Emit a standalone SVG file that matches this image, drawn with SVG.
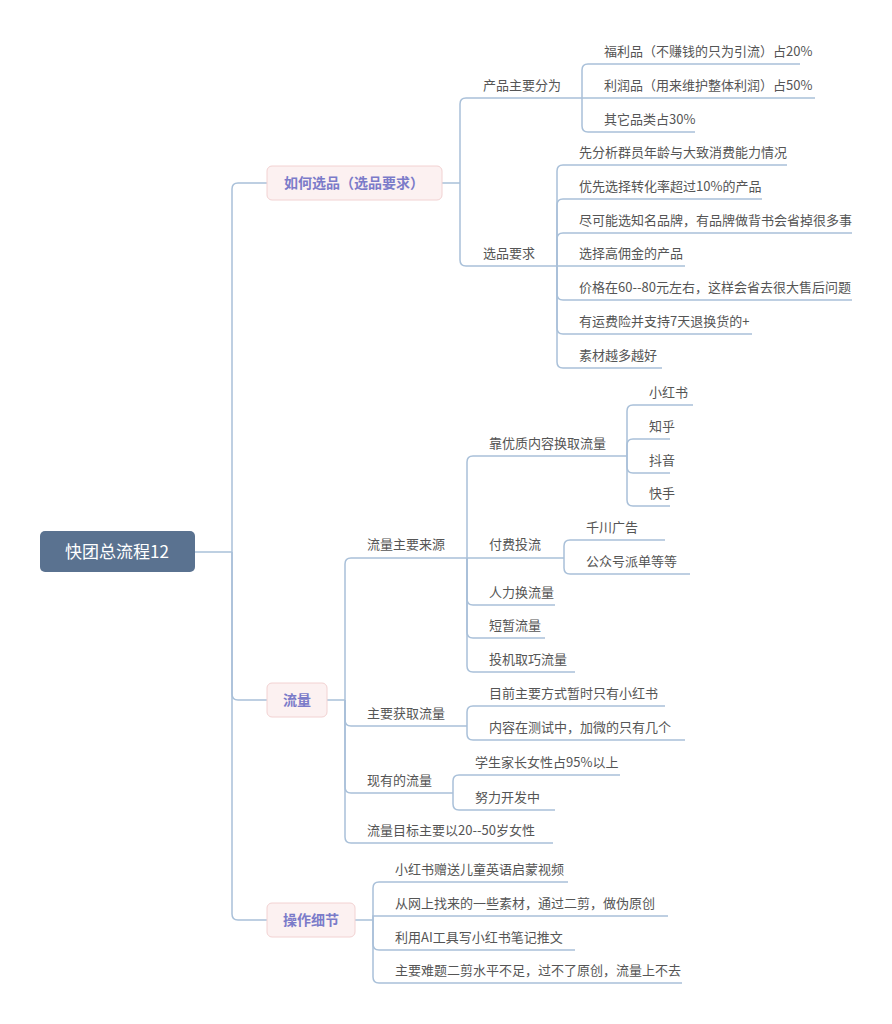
<svg xmlns="http://www.w3.org/2000/svg" width="892" height="1024" viewBox="0 0 892 1024">
<style>
.c{fill:none;stroke:#a9c0d9;stroke-width:1.5}
text{font-family:"Noto Sans CJK SC","Noto Sans",sans-serif;font-size:13px;fill:#555}
.m{fill:#fcf1f1;stroke:#f2d2d2;stroke-width:1}
.mt{font-size:14px;font-weight:bold;fill:#7b7bc9;text-anchor:middle}
</style>
<rect width="892" height="1024" fill="#fff"/>
<g id="connectors" class="c">
<path d="M195,552 H232"/>
<path d="M232,552 V189 Q232,183 238,183 H267"/>
<path d="M232,552 V694 Q232,700 238,700 H267"/>
<path d="M232,552 V914 Q232,920 238,920 H267"/>
<path d="M442,183 H460"/>
<path d="M460,183 V104 Q460,98 466,98 H582"/>
<path d="M460,183 V260 Q460,266 466,266 H557"/>
<path d="M582,98 V70 Q582,64 588,64 H800"/>
<path d="M582,98 H815"/>
<path d="M582,98 V126 Q582,132 588,132 H695"/>
<path d="M557,266 V171 Q557,165 563,165 H787"/>
<path d="M557,266 V205 Q557,199 563,199 H762"/>
<path d="M557,266 V239 Q557,233 563,233 H852"/>
<path d="M557,266 H685"/>
<path d="M557,266 V294 Q557,300 563,300 H852"/>
<path d="M557,266 V328 Q557,334 563,334 H752"/>
<path d="M557,266 V362 Q557,368 563,368 H662"/>
<path d="M327,700 H345"/>
<path d="M345,700 V564 Q345,558 351,558 H467"/>
<path d="M345,700 V720 Q345,726 351,726 H467"/>
<path d="M345,700 V787 Q345,793 351,793 H453"/>
<path d="M345,700 V837 Q345,843 351,843 H553"/>
<path d="M467,558 V462 Q467,456 473,456 H627"/>
<path d="M467,558 H564"/>
<path d="M467,558 V599 Q467,605 473,605 H555"/>
<path d="M467,558 V632 Q467,638 473,638 H545"/>
<path d="M467,558 V666 Q467,672 473,672 H575"/>
<path d="M627,456 V411 Q627,405 633,405 H693"/>
<path d="M627,456 V445 Q627,439 633,439 H670"/>
<path d="M627,456 V467 Q627,473 633,473 H670"/>
<path d="M627,456 V500 Q627,506 633,506 H670"/>
<path d="M564,558 V546 Q564,540 570,540 H665"/>
<path d="M564,558 V568 Q564,574 570,574 H690"/>
<path d="M467,726 V712 Q467,706 473,706 H665"/>
<path d="M467,726 V734 Q467,740 473,740 H685"/>
<path d="M453,793 V781 Q453,775 459,775 H620"/>
<path d="M453,793 V804 Q453,810 459,810 H555"/>
<path d="M355,920 H373"/>
<path d="M373,920 V888 Q373,882 379,882 H568"/>
<path d="M373,920 V916 H668"/>
<path d="M373,920 V944 Q373,950 379,950 H575"/>
<path d="M373,920 V977 Q373,983 379,983 H682"/>
</g>
<g id="root"><rect x="40" y="531" width="155" height="41" rx="5" fill="#5a7290"/><text x="117" y="558" text-anchor="middle" style="font-size:17px;fill:#fff">快团总流程12</text></g>
<g id="n1"><rect class="m" x="267" y="166" width="175" height="34" rx="5"/><text class="mt" x="354" y="188">如何选品（选品要求）</text></g>
<g id="n2"><rect class="m" x="267" y="683" width="60" height="34" rx="5"/><text class="mt" x="297" y="705">流量</text></g>
<g id="n3"><rect class="m" x="267" y="903" width="88" height="34" rx="5"/><text class="mt" x="311" y="925">操作细节</text></g>
<g id="leaves">
<text x="483" y="90">产品主要分为</text>
<text x="604" y="56">福利品（不赚钱的只为引流）占20%</text>
<text x="604" y="90">利润品（用来维护整体利润）占50%</text>
<text x="604" y="124">其它品类占30%</text>
<text x="483" y="258">选品要求</text>
<text x="579" y="157">先分析群员年龄与大致消费能力情况</text>
<text x="579" y="191">优先选择转化率超过10%的产品</text>
<text x="579" y="225">尽可能选知名品牌，有品牌做背书会省掉很多事</text>
<text x="579" y="258">选择高佣金的产品</text>
<text x="579" y="292">价格在60--80元左右，这样会省去很大售后问题</text>
<text x="579" y="326">有运费险并支持7天退换货的+</text>
<text x="579" y="360">素材越多越好</text>
<text x="367" y="549">流量主要来源</text>
<text x="489" y="448">靠优质内容换取流量</text>
<text x="649" y="397">小红书</text>
<text x="649" y="431">知乎</text>
<text x="649" y="465">抖音</text>
<text x="649" y="498">快手</text>
<text x="489" y="549">付费投流</text>
<text x="586" y="532">千川广告</text>
<text x="586" y="566">公众号派单等等</text>
<text x="489" y="597">人力换流量</text>
<text x="489" y="630">短暂流量</text>
<text x="489" y="664">投机取巧流量</text>
<text x="367" y="718">主要获取流量</text>
<text x="489" y="698">目前主要方式暂时只有小红书</text>
<text x="489" y="732">内容在测试中，加微的只有几个</text>
<text x="367" y="785">现有的流量</text>
<text x="475" y="767">学生家长女性占95%以上</text>
<text x="475" y="802">努力开发中</text>
<text x="367" y="835">流量目标主要以20--50岁女性</text>
<text x="395" y="874">小红书赠送儿童英语启蒙视频</text>
<text x="395" y="908">从网上找来的一些素材，通过二剪，做伪原创</text>
<text x="395" y="942">利用AI工具写小红书笔记推文</text>
<text x="395" y="975">主要难题二剪水平不足，过不了原创，流量上不去</text>
</g>
</svg>
